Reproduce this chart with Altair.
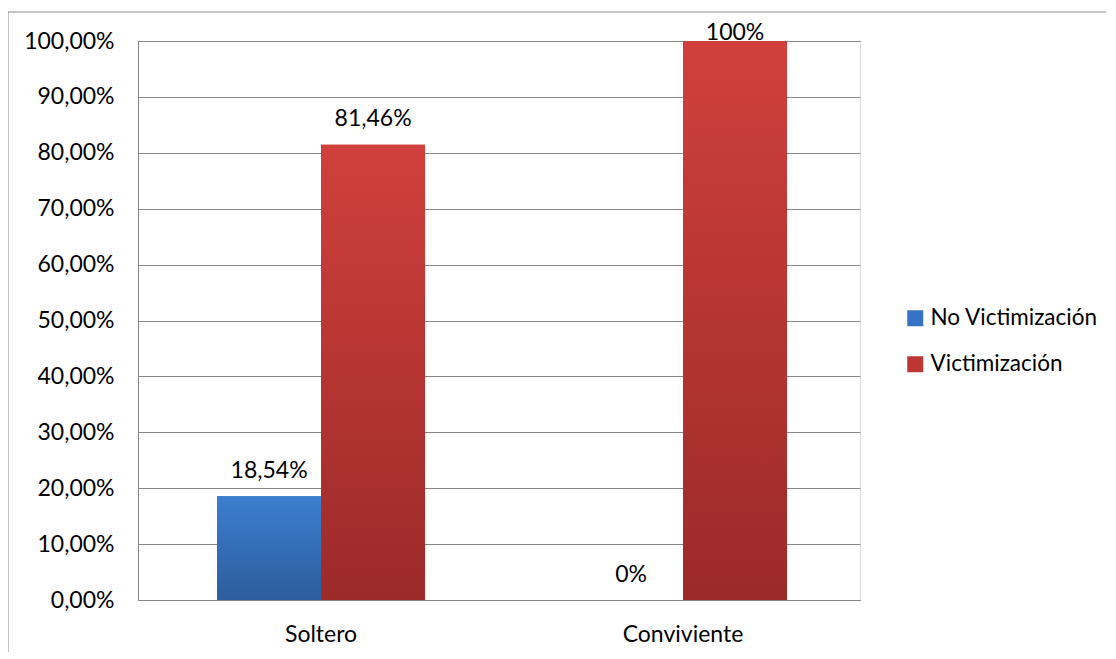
import altair as alt
import pandas as pd

categories = ["Soltero", "Conviviente"]
series = ["No Victimización", "Victimización"]
no_vict = [0.1854, 0.0]
vict = [0.8146, 1.0]
labels_no = ["18,54%", "0%"]
labels_vict = ["81,46%", "100%"]
y_ticks = [0, 0.1, 0.2, 0.3, 0.4, 0.5, 0.6, 0.7, 0.8, 0.9, 1.0]

rows = []
for i, c in enumerate(categories):
    rows.append({"cat": c, "series": series[0], "value": no_vict[i], "label": labels_no[i]})
    rows.append({"cat": c, "series": series[1], "value": vict[i], "label": labels_vict[i]})
df = pd.DataFrame(rows)

FONT = "Lato"
FS = 23
GRID = "#868686"

x_enc = alt.X("cat:N", sort=categories,
              scale=alt.Scale(paddingInner=0.4254, paddingOuter=0.21, align=0.52),
              axis=alt.Axis(title=None, labelAngle=0, labelFontSize=FS, labelFont=FONT,
                            labelColor="#000000", ticks=False, labelPadding=23,
                            domainColor=GRID, grid=False))
xo_enc = alt.XOffset("series:N", sort=series, scale=alt.Scale(paddingInner=0, paddingOuter=0))
y_enc = alt.Y("value:Q", scale=alt.Scale(domain=[0, 1], nice=False),
              axis=alt.Axis(title=None, values=y_ticks, grid=True, gridColor=GRID,
                            domainColor=GRID, ticks=False, labelPadding=24,
                            labelFontSize=FS, labelFont=FONT, labelColor="#000000",
                            labelExpr="replace(format(datum.value*100, '.2f'), '.', ',') + '%'"))

base = alt.Chart(df).encode(x=x_enc, xOffset=xo_enc, y=y_enc)

bars = base.mark_bar().encode(
    color=alt.Color("series:N", sort=series,
                    scale=alt.Scale(domain=series, range=["#3673c4", "#bd3632"]),
                    legend=alt.Legend(title=None, orient="none", legendX=766, legendY=266,
                                      symbolType="square", symbolSize=256,
                                      symbolStrokeWidth=0, labelFontSize=22.5,
                                      labelFont=FONT, labelColor="#000000",
                                      labelLimit=400,
                                      rowPadding=23, labelOffset=4))
)

blue_grad = alt.Gradient(gradient="linear",
                         stops=[alt.GradientStop(color="#3c7ed0", offset=0),
                                alt.GradientStop(color="#2c5d9c", offset=1)],
                         x1=0, x2=0, y1=0, y2=1)
red_grad = alt.Gradient(gradient="linear",
                        stops=[alt.GradientStop(color="#d0403c", offset=0),
                               alt.GradientStop(color="#9b2a29", offset=1)],
                        x1=0, x2=0, y1=0, y2=1)

blue = base.mark_bar(color=blue_grad).transform_filter(alt.datum.series == series[0])
red = base.mark_bar(color=red_grad).transform_filter(alt.datum.series == series[1])

labels = alt.Chart(df).transform_calculate(
    ly="min(datum.value + 0.045, 1.015)"
).mark_text(fontSize=FS, font=FONT, color="#000000", baseline="middle").encode(
    x=alt.X("cat:N", sort=categories), xOffset=alt.XOffset("series:N", sort=series),
    y=alt.Y("ly:Q"), text="label:N"
)

border_df = pd.DataFrame({"k": [0]})
left_border = alt.Chart(border_df).mark_rule(color="#8c8c8c", strokeWidth=1).encode(
    x=alt.value(-130), y=alt.value(-29), y2=alt.value(620))
top_border = alt.Chart(border_df).mark_rule(color="#8c8c8c", strokeWidth=1).encode(
    x=alt.value(-130), x2=alt.value(980), y=alt.value(-29))

chart = alt.layer(bars, blue, red, labels, left_border, top_border).properties(
    width=722, height=559,
    autosize=alt.AutoSizeParams(type="none"),
    padding={"left": 130, "top": 33, "right": 246, "bottom": 52},
).configure_view(stroke=None).configure(background="white")

chart.save("out.html", embed_options={"renderer": "svg", "actions": False})
